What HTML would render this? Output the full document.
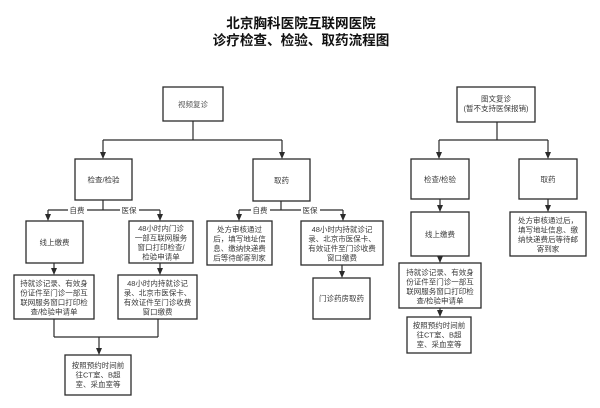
<!DOCTYPE html>
<html><head><meta charset="utf-8"><style>
html,body{margin:0;padding:0;background:#fff;}
svg{display:block;}
text{font-family:"Liberation Sans","Noto Sans CJK SC",sans-serif;}
.t{font-size:7.5px;fill:#3a3a3a;text-anchor:middle;}
.b{fill:#fff;stroke:#2b2b2b;stroke-width:1.3;}
.l{fill:none;stroke:#2b2b2b;stroke-width:1.2;}
.a{fill:#2b2b2b;}
.lb{font-size:7.5px;fill:#3a3a3a;text-anchor:middle;}
</style></head><body>
<svg width="600" height="408" viewBox="0 0 600 408" xmlns="http://www.w3.org/2000/svg">
<rect width="600" height="408" fill="#fff"/>
<text x="301" y="28" text-anchor="middle" style="font-size:13.6px;font-weight:bold;fill:#111;">北京胸科医院互联网医院</text>
<text x="301" y="45" text-anchor="middle" style="font-size:13.6px;font-weight:bold;fill:#111;">诊疗检查、检验、取药流程图</text>

<!-- Left tree connectors -->
<path class="l" d="M193 121V140M103 140H282M103 140V153M282 140V153"/>
<polygon class="a" points="100,152 106,152 103,159"/>
<polygon class="a" points="279,152 285,152 282,159"/>

<path class="l" d="M103 200V210M48 210H160M48 210V215M160 210V215"/>
<polygon class="a" points="45,214 51,214 48,221"/>
<polygon class="a" points="157,214 163,214 160,221"/>
<rect x="68" y="205" width="19" height="10" fill="#fff"/>
<text class="lb" x="77" y="213">自费</text>
<rect x="120" y="205" width="19" height="10" fill="#fff"/>
<text class="lb" x="129" y="213">医保</text>

<path class="l" d="M54 263V269M160 263V269"/>
<polygon class="a" points="51,268 57,268 54,275"/>
<polygon class="a" points="157,268 163,268 160,275"/>

<path class="l" d="M54 319V337M158 319V337M54 337H158M99 337V349"/>
<polygon class="a" points="96,348 102,348 99,355"/>

<path class="l" d="M281 201V210M239 210H343M239 210V215M343 210V215"/>
<polygon class="a" points="236,214 242,214 239,221"/>
<polygon class="a" points="340,214 346,214 343,221"/>
<rect x="251" y="205" width="19" height="10" fill="#fff"/>
<text class="lb" x="260" y="213">自费</text>
<rect x="301" y="205" width="19" height="10" fill="#fff"/>
<text class="lb" x="310" y="213">医保</text>

<path class="l" d="M342 265V272"/>
<polygon class="a" points="339,271 345,271 342,278"/>

<!-- Right tree connectors -->
<path class="l" d="M497 122V140M439 140H548M439 140V153M548 140V153"/>
<polygon class="a" points="436,152 442,152 439,159"/>
<polygon class="a" points="545,152 551,152 548,159"/>
<path class="l" d="M440 199V206M548 199V206"/>
<polygon class="a" points="437,205 443,205 440,212"/>
<polygon class="a" points="545,205 551,205 548,212"/>
<path class="l" d="M440 256V257"/>
<polygon class="a" points="437,256 443,256 440,263"/>
<path class="l" d="M440 308V311"/>
<polygon class="a" points="437,310 443,310 440,317"/>

<!-- Boxes left -->
<rect class="b" x="163" y="87" width="60" height="34"/>
<text class="t" x="193" y="107" style="fill:#555">视频复诊</text>

<rect class="b" x="75" y="159" width="57" height="41"/>
<text class="t" x="103.5" y="182.5">检查/检验</text>

<rect class="b" x="253" y="159" width="57" height="42"/>
<text class="t" x="281.5" y="183">取药</text>

<rect class="b" x="26" y="221" width="57" height="42"/>
<text class="t" x="54.5" y="245">线上缴费</text>

<rect class="b" x="129" y="221" width="64" height="42"/>
<text class="t" x="161" y="231">48小时内门诊</text>
<text class="t" x="161" y="240.5">一部互联网服务</text>
<text class="t" x="161" y="250">窗口打印检查/</text>
<text class="t" x="161" y="259.5">检验申请单</text>

<rect class="b" x="207" y="221" width="65" height="44"/>
<text class="t" x="239.5" y="232">处方审核通过</text>
<text class="t" x="239.5" y="241.5">后，填写地址信</text>
<text class="t" x="239.5" y="251">息、缴纳快递费</text>
<text class="t" x="239.5" y="260.5">后等待邮寄到家</text>

<rect class="b" x="301" y="221" width="82" height="44"/>
<text class="t" x="342" y="232">48小时内持就诊记</text>
<text class="t" x="342" y="241.5">录、北京市医保卡、</text>
<text class="t" x="342" y="251">有效证件至门诊收费</text>
<text class="t" x="342" y="260.5">窗口缴费</text>

<rect class="b" x="313" y="278" width="57" height="41"/>
<text class="t" x="341.5" y="301">门诊药房取药</text>

<rect class="b" x="14" y="275" width="80" height="44"/>
<text class="t" x="54" y="286">持就诊记录、有效身</text>
<text class="t" x="54" y="295.5">份证件至门诊一部互</text>
<text class="t" x="54" y="305">联网服务窗口打印检</text>
<text class="t" x="54" y="314.5">查/检验申请单</text>

<rect class="b" x="118" y="275" width="79" height="44"/>
<text class="t" x="157.5" y="286">48小时内持就诊记</text>
<text class="t" x="157.5" y="295.5">录、北京市医保卡、</text>
<text class="t" x="157.5" y="305">有效证件至门诊收费</text>
<text class="t" x="157.5" y="314.5">窗口缴费</text>

<rect class="b" x="65" y="355" width="66" height="40"/>
<text class="t" x="98" y="368">按照预约时间前</text>
<text class="t" x="98" y="377.5">往CT室、B超</text>
<text class="t" x="98" y="387">室、采血室等</text>

<!-- Boxes right -->
<rect class="b" x="457" y="87" width="78" height="35"/>
<text class="t" x="496" y="101.5">图文复诊</text>
<text class="t" x="496" y="111">(暂不支持医保报销)</text>

<rect class="b" x="411" y="159" width="58" height="40"/>
<text class="t" x="440" y="182">检查/检验</text>

<rect class="b" x="519" y="159" width="58" height="40"/>
<text class="t" x="548" y="182">取药</text>

<rect class="b" x="411" y="212" width="58" height="44"/>
<text class="t" x="440" y="237">线上缴费</text>

<rect class="b" x="510" y="212" width="76" height="44"/>
<text class="t" x="548" y="223">处方审核通过后，</text>
<text class="t" x="548" y="232.5">填写地址信息、缴</text>
<text class="t" x="548" y="242">纳快递费后等待邮</text>
<text class="t" x="548" y="251.5">寄到家</text>

<rect class="b" x="399" y="263" width="82" height="45"/>
<text class="t" x="440" y="275">持就诊记录、有效身</text>
<text class="t" x="440" y="284.5">份证件至门诊一部互</text>
<text class="t" x="440" y="294">联网服务窗口打印检</text>
<text class="t" x="440" y="303.5">查/检验申请单</text>

<rect class="b" x="407" y="317" width="64" height="36"/>
<text class="t" x="439" y="328">按照预约时间前</text>
<text class="t" x="439" y="337.5">往CT室、B超</text>
<text class="t" x="439" y="347">室、采血室等</text>
</svg>
</body></html>
